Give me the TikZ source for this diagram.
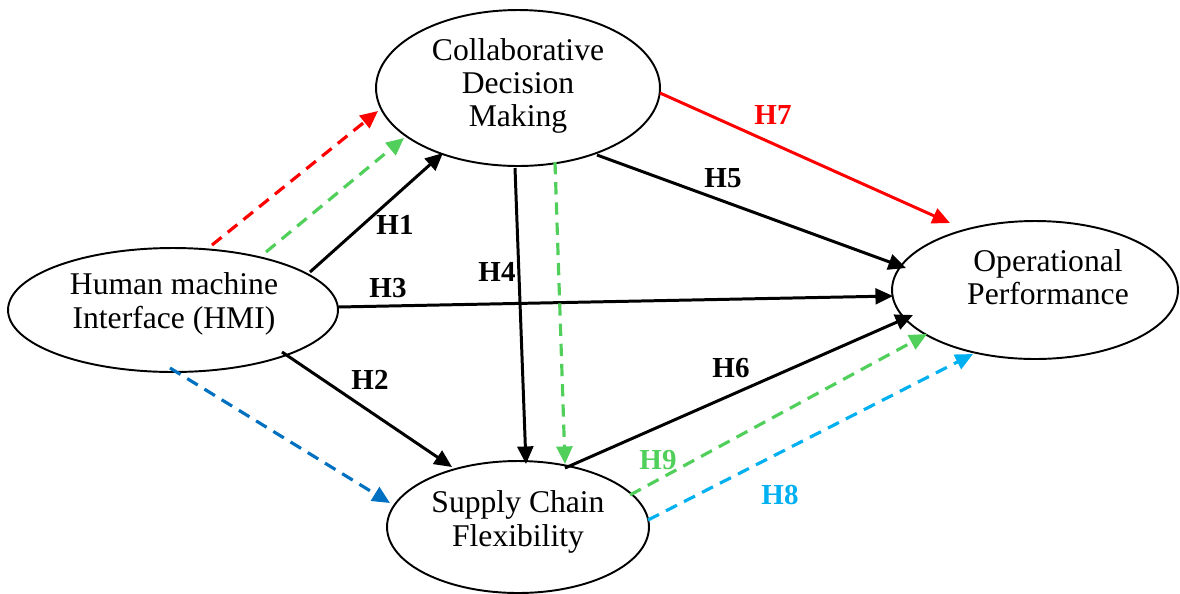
\documentclass[tikz,border=0pt]{standalone}
\usepackage{fontspec}
\setmainfont{Liberation Serif}
\usetikzlibrary{arrows.meta,shapes.geometric}
\definecolor{hred}{RGB}{255,0,0}
\definecolor{hgreen}{RGB}{80,208,90}
\definecolor{hblue}{RGB}{0,112,192}
\definecolor{hsky}{RGB}{0,176,240}
\tikzset{
  ell/.style={draw, ellipse, line width=1.1pt, inner sep=0pt},
  etext/.style={align=center, font=\fontsize{18}{19}\selectfont},
  conn/.style={line width=1.7pt, -{Triangle[length=10pt,width=9pt]}},
  dconn/.style={conn, line width=1.8pt, dash pattern=on 7pt off 4.5pt},
  lab/.style={font=\fontsize{16.5}{19}\selectfont\bfseries, inner sep=0pt}
}
\begin{document}
\begin{tikzpicture}[x=0.02cm,y=-0.02cm]
\useasboundingbox (0,0) rectangle (1180,593);
\node[ell, minimum width=5.68cm, minimum height=3.12cm] (cdm) at (518,88) {};
\node[etext] (cdmt) at (518,86) {Collaborative\\Decision\\Making};
\node[ell, minimum width=6.6cm, minimum height=2.48cm] (hmi) at (173,310) {};
\node[etext] (hmit) at (174,304) {Human machine\\Interface (HMI)};
\node[ell, minimum width=5.72cm, minimum height=2.76cm] (op) at (1035,290) {};
\node[etext] (opt) at (1048,277) {Operational\\Performance};
\node[ell, minimum width=5.24cm, minimum height=2.64cm] (scf) at (518,527) {};
\node[etext] (scft) at (518,522) {Supply Chain\\Flexibility};
\coordinate (a1) at (212,245); \coordinate (b1) at (378,111);
\coordinate (a2) at (266,252); \coordinate (b2) at (404,138);
\coordinate (a3) at (310,272); \coordinate (b3) at (443,153);
\coordinate (a4) at (338,307); \coordinate (b4) at (893,296);
\coordinate (a5) at (282,352); \coordinate (b5) at (452,467);
\coordinate (a6) at (170,368); \coordinate (b6) at (390,503);
\coordinate (a7) at (515,168); \coordinate (b7) at (526,464);
\coordinate (a8) at (555,162); \coordinate (b8) at (565,464);
\coordinate (a9) at (597,155); \coordinate (b9) at (906,268);
\coordinate (a10) at (660,93); \coordinate (b10) at (950,223);
\coordinate (a11) at (565,468); \coordinate (b11) at (913,315);
\coordinate (a12) at (630,495); \coordinate (b12) at (927,334);
\coordinate (a13) at (648,520); \coordinate (b13) at (973,354);
\draw[dconn, hred] (a1) -- (b1);
\draw[dconn, hgreen] (a2) -- (b2);
\draw[conn] (a3) -- (b3);
\draw[conn] (a4) -- (b4);
\draw[conn] (a5) -- (b5);
\draw[dconn, hblue] (a6) -- (b6);
\draw[conn] (a7) -- (b7);
\draw[dconn, hgreen] (a8) -- (b8);
\draw[conn] (a9) -- (b9);
\draw[conn, hred] (a10) -- (b10);
\draw[conn] (a11) -- (b11);
\draw[dconn, hgreen] (a12) -- (b12);
\draw[dconn, hsky] (a13) -- (b13);
\node[lab] (h1) at (395,225) {H1};
\node[lab] (h2) at (370,380) {H2};
\node[lab] (h3) at (388,288) {H3};
\node[lab] (h4) at (497,272) {H4};
\node[lab] (h5) at (723,178) {H5};
\node[lab] (h6) at (731,368) {H6};
\node[lab, text=hred] (h7) at (773,115) {H7};
\node[lab, text=hsky] (h8) at (780,495) {H8};
\node[lab, text=hgreen] (h9) at (658,460) {H9};
\end{tikzpicture}
\end{document}
